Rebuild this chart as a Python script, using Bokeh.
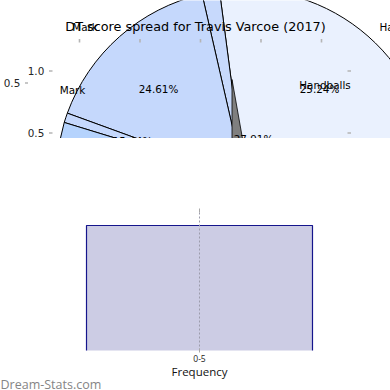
import numpy as np
from bokeh.plotting import figure
from bokeh.layouts import column
from bokeh.models import Range1d, ColumnDataSource
from bokeh.core.properties import value
from bokeh.embed import file_html
from bokeh.resources import INLINE

# ---------------- data ----------------
title_text = "DT score spread for Travis Varcoe (2017)"

# visible pie wedges (share of the circle, %), anticlockwise from east
slice_names = ["Handballs", "Hitouts", "Marks", "Behinds", "Tackles", "Kicks"]
slice_share = [27.08, 1.50, 15.86, 0.83, 15.83, 38.90]
slice_colors = ["#eaf1fe", "#c7d9fc", "#c5d8fc", "#c5d8fc", "#b5d3fd", "#dce8fd"]

# small grey wedge of the overlapping pie (share of circle, %)
grey_share = 2.8
grey_color = "#7f7f7f"

# texts drawn on the pie
pie_texts = ["Mark", "Handballs", "Mark", "Handballs", "24.61%", "25.24%", "27.91%", "15.44%"]

# histogram
hist_bins = ["0-5"]
hist_freq = [1]
hist_xlabel = "Frequency"
watermark = "Dream-Stats.com"

# stray axis tick labels
ytick_labels = ["1.0", "0.5"]
ytick_values = [1.0, 0.5]
outer_tick_labels = ["0.5"]

# ---------------- layout ----------------
FONT = "DejaVu Sans"
W = 390
TOP_H = 138
BOT_H = 252
pie_cx, pie_cy, pie_r = 243.5, -177.0, 188.0
grey_cx, grey_cy, grey_r = 231.5, -79.0, 70.0

pie_text_x = [84.5, 379.0, 72.0, 324.5, 158.0, 319.0, 253.0, 132.0]
pie_text_y = [26.0, 26.0, 89.0, 84.5, 88.5, 88.0, 138.5, 140.0]
pie_text_align = ["center", "left", "center", "center", "center", "center", "center", "center"]

p1 = figure(width=W, height=TOP_H, x_range=Range1d(0, W), y_range=Range1d(-TOP_H, 0),
            output_backend="svg", toolbar_location=None,
            x_axis_location=None, y_axis_location=None, min_border=0)
p1.outline_line_color = None
p1.grid.visible = False

share = np.array(slice_share)
ends = np.cumsum(share) / 100.0 * 2 * np.pi
starts = ends - share / 100.0 * 2 * np.pi
src = ColumnDataSource(dict(name=slice_names, start=starts, end=ends, color=slice_colors))
p1.wedge(x=pie_cx, y=pie_cy, radius=pie_r, start_angle="start", end_angle="end",
         fill_color="color", line_color="black", line_width=1, source=src)

g0 = 1.5 * np.pi
p1.wedge(x=grey_cx, y=grey_cy, radius=grey_r, start_angle=g0,
         end_angle=g0 + grey_share / 100.0 * 2 * np.pi,
         fill_color=grey_color, line_color="black", line_width=0.8)

p1.text(x=[195.0], y=[-25.5], text=[title_text], text_align="center", text_baseline="middle",
        text_font=value(FONT), text_font_size="12.8px", text_color="black")

tsrc = ColumnDataSource(dict(x=pie_text_x, y=[-v for v in pie_text_y], t=pie_texts, a=pie_text_align))
p1.text(x="x", y="y", text="t", text_align="a", text_baseline="middle",
        text_font=value(FONT), text_font_size="10.4px", text_color="black", source=tsrc)

ytick_page = [132.5 - (v - 0.5) * 124.0 for v in ytick_values]
p1.text(x=[35.5] * len(ytick_labels), y=[-v for v in ytick_page], text=ytick_labels,
        text_align="center", text_baseline="middle", text_font=value(FONT),
        text_font_size="10.4px", text_color="#262626")
p1.text(x=[11.5], y=[-82.5], text=outer_tick_labels, text_align="center", text_baseline="middle",
        text_font=value(FONT), text_font_size="10.4px", text_color="#262626")
TICK = "#b5b5b5"
p1.segment(x0=[48.5] * 2, x1=[52] * 2, y0=[-v for v in ytick_page], y1=[-v for v in ytick_page],
           line_color=TICK, line_width=1.6)
p1.segment(x0=[347] * 2, x1=[350.5] * 2, y0=[-v for v in ytick_page], y1=[-v for v in ytick_page],
           line_color=TICK, line_width=1.6)
p1.segment(x0=[24.5], x1=[27.5], y0=[-82.5], y1=[-82.5], line_color=TICK, line_width=1.6)
top_ticks = [79 + 60.5 * i for i in range(5)]
p1.segment(x0=top_ticks, x1=top_ticks, y0=[-38.5] * 5, y1=[-42] * 5, line_color=TICK, line_width=1.6)

# ---------------- histogram ----------------
PX = 382.0          # px per bin unit
PY = 125.0          # px per frequency unit
bar_w = 0.5916
x_left = -199.0 / PX
p2 = figure(width=W, height=BOT_H, x_range=Range1d(x_left, x_left + W / PX),
            y_range=Range1d(-40.0 / PY, 212.0 / PY),
            output_backend="svg", toolbar_location=None,
            x_axis_location=None, y_axis_location=None, min_border=0)
p2.outline_line_color = None
p2.grid.visible = False

bx = np.arange(len(hist_bins), dtype=float)
top = np.array(hist_freq, dtype=float)
p2.vbar(x=bx, top=top, bottom=0, width=bar_w, fill_color="#cccce4", line_color=None)
p2.multi_line(xs=[[x - bar_w / 2, x - bar_w / 2, x + bar_w / 2, x + bar_w / 2] for x in bx],
              ys=[[0, t, t, 0] for t in top], line_color="#15158c", line_width=1.2)

grid_top = 140.0 / PY
p2.segment(x0=bx, x1=bx, y0=[0] * len(bx), y1=[grid_top] * len(bx),
           line_color="#9c9cac", line_dash="2 2", line_width=1)
tk = 2.0 / PY
p2.segment(x0=bx, x1=bx, y0=[-tk] * len(bx), y1=[tk] * len(bx), line_color="#a8a8a8", line_width=1)
p2.segment(x0=bx, x1=bx, y0=[grid_top - tk] * len(bx), y1=[grid_top + tk] * len(bx),
           line_color="#a8a8a8", line_width=1)

p2.text(x=bx, y=[-7.5 / PY] * len(bx), text=hist_bins, text_align="center", text_baseline="middle",
        text_font=value("Open Sans"), text_font_size="8.5px", text_color="#222222")
p2.text(x=[0.0], y=[-20.5 / PY], text=[hist_xlabel], text_align="center", text_baseline="middle",
        text_font=value("Open Sans"), text_font_size="11.5px", text_color="#111111")
p2.text(x=[x_left], y=[-33.5 / PY], text=[watermark], text_align="left", text_baseline="alphabetic",
        text_font=value("Open Sans"), text_font_size="12.5px", text_color="#858585")

layout = column(p1, p2, spacing=0)
open("out.html", "w").write(file_html(layout, INLINE))
